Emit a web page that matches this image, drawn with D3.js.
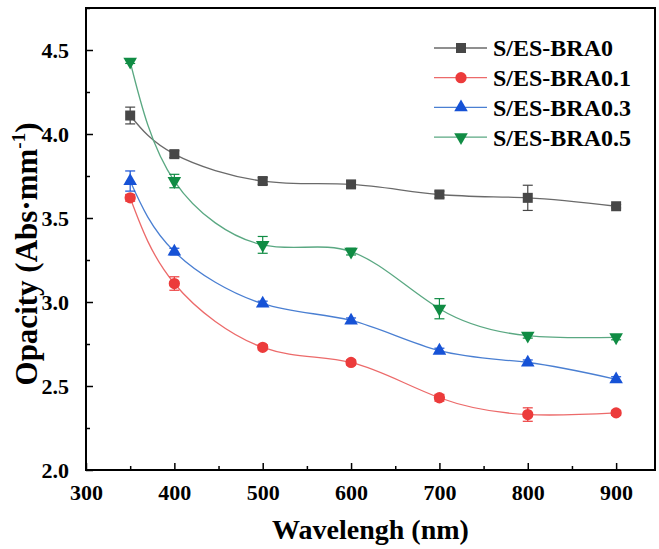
<!DOCTYPE html>
<html>
<head>
<meta charset="utf-8">
<script src="https://cdn.jsdelivr.net/npm/d3@7"></script>
<style>
  body { margin: 0; background: #fff; }
  svg text { font-family: "Liberation Serif", "Times New Roman", "DejaVu Serif", serif; font-weight: bold; }
</style>
</head>
<body>
<div class="vis-opacity"></div>
<script>
// wavelengths (nm)
const wavelengths = [350, 400, 500, 600, 700, 800, 900];
const seriesNames = ['S/ES-BRA0', 'S/ES-BRA0.1', 'S/ES-BRA0.3', 'S/ES-BRA0.5'];
// opacity values (Abs·mm-1) and error bars
const bra0 = [4.11, 3.88, 3.72, 3.70, 3.64, 3.62, 3.57];
const bra0Err = [0.05, 0.02, 0.02, 0.02, 0.02, 0.075, 0.01];
const bra01 = [3.62, 3.11, 2.73, 2.64, 2.43, 2.33, 2.34];
const bra01Err = [0.02, 0.04, 0.015, 0.015, 0.02, 0.04, 0.015];
const bra03 = [3.72, 3.30, 2.99, 2.89, 2.71, 2.64, 2.54];
const bra03Err = [0.06, 0.02, 0.015, 0.015, 0.015, 0.015, 0.015];
const bra05 = [4.43, 3.72, 3.34, 3.30, 2.96, 2.80, 2.79];
const bra05Err = [0.01, 0.04, 0.05, 0.02, 0.06, 0.015, 0.015];
const xTicks = [300, 400, 500, 600, 700, 800, 900];
const yTicks = [2.0, 2.5, 3.0, 3.5, 4.0, 4.5];

const width = 659, height = 549;
const margin = {top: 8, right: 4, bottom: 79, left: 86};

const markerColor = ['#474747', '#ec3b3b', '#1652d6', '#108c44'];
const lineColor = ['#6a6a6a', '#ec6a6a', '#4a7fd2', '#5aa882'];
const symbols = [d3.symbolSquare, d3.symbolCircle, d3.symbolTriangle, d3.symbolTriangle];
const symSize = [100, 100, 80, 80];
const symRotate = [0, 0, 0, 180];

const allValues = [bra0, bra01, bra03, bra05];
const allErrs = [bra0Err, bra01Err, bra03Err, bra05Err];
const series = seriesNames.map((name, i) => ({
  name: name,
  idx: i,
  points: wavelengths.map((w, j) => ({x: w, y: allValues[i][j], e: allErrs[i][j]}))
}));

const svg = d3.select(".vis-opacity")
  .append("svg")
    .attr("width", width)
    .attr("height", height);

const x = d3.scaleLinear()
  .domain([300, 944])
  .range([margin.left, width - margin.right]);
const y = d3.scaleLinear()
  .domain([2.0, 4.75])
  .range([height - margin.bottom, margin.top]);

// axes (ticks inward)
svg.append("g")
  .attr("transform", "translate(0," + (height - margin.bottom) + ")")
  .call(d3.axisBottom(x).tickValues(d3.range(350, 944, 100)).tickSize(-4).tickFormat(""))
  .call(g => g.select(".domain").remove());
svg.append("g")
  .attr("transform", "translate(0," + (height - margin.bottom) + ")")
  .call(d3.axisBottom(x).tickValues(xTicks).tickSize(-7).tickPadding(14).tickFormat(d3.format("d")))
  .call(g => g.select(".domain").remove())
  .call(g => g.selectAll("text").attr("font-size", 22).attr("fill", "#000").attr("dy", "0.71em"));

svg.append("g")
  .attr("transform", "translate(" + margin.left + ",0)")
  .call(d3.axisLeft(y).tickValues([2.25, 2.75, 3.25, 3.75, 4.25, 4.75]).tickSize(-4).tickFormat(""))
  .call(g => g.select(".domain").remove());
svg.append("g")
  .attr("transform", "translate(" + margin.left + ",0)")
  .call(d3.axisLeft(y).tickValues(yTicks).tickSize(-7).tickPadding(17).tickFormat(d3.format(".1f")))
  .call(g => g.select(".domain").remove())
  .call(g => g.selectAll("text").attr("font-size", 22).attr("fill", "#000"));

svg.selectAll(".tick line").attr("stroke", "#000").attr("stroke-width", 1.5);

// frame
svg.append("rect")
  .attr("x", margin.left)
  .attr("y", margin.top)
  .attr("width", width - margin.left - margin.right)
  .attr("height", height - margin.top - margin.bottom)
  .attr("fill", "none")
  .attr("stroke", "#000")
  .attr("stroke-width", 2);

// curves
const line = d3.line()
  .curve(d3.curveNatural)
  .x(d => x(d.x))
  .y(d => y(d.y));

svg.selectAll(".curve")
  .data(series)
  .enter()
  .append("path")
    .attr("class", "curve")
    .attr("fill", "none")
    .attr("stroke", d => lineColor[d.idx])
    .attr("stroke-width", 1.3)
    .attr("d", d => line(d.points));

// error bars
series.forEach(s => {
  const g = svg.append("g").attr("stroke", markerColor[s.idx]).attr("stroke-width", 1.2);
  g.selectAll("line.v")
    .data(s.points)
    .enter().append("line")
      .attr("x1", d => x(d.x)).attr("x2", d => x(d.x))
      .attr("y1", d => y(d.y - d.e)).attr("y2", d => y(d.y + d.e));
  g.selectAll("line.top")
    .data(s.points)
    .enter().append("line")
      .attr("x1", d => x(d.x) - 5).attr("x2", d => x(d.x) + 5)
      .attr("y1", d => y(d.y + d.e)).attr("y2", d => y(d.y + d.e));
  g.selectAll("line.bot")
    .data(s.points)
    .enter().append("line")
      .attr("x1", d => x(d.x) - 5).attr("x2", d => x(d.x) + 5)
      .attr("y1", d => y(d.y - d.e)).attr("y2", d => y(d.y - d.e));
});

// markers
series.forEach(s => {
  svg.append("g").selectAll("path")
    .data(s.points)
    .enter().append("path")
      .attr("d", d3.symbol().type(symbols[s.idx]).size(symSize[s.idx]))
      .attr("transform", d => "translate(" + x(d.x) + "," + y(d.y) + ") rotate(" + symRotate[s.idx] + ")")
      .attr("fill", markerColor[s.idx]);
});

// axis titles
svg.append("text")
  .attr("x", (margin.left + width - margin.right) / 2)
  .attr("y", 539)
  .attr("text-anchor", "middle")
  .attr("font-size", 28)
  .text("Wavelengh (nm)");

const yt = svg.append("text")
  .attr("transform", "translate(37,254) rotate(-90)")
  .attr("text-anchor", "middle")
  .attr("font-size", 31);
yt.append("tspan").text("Opacity (Abs·mm");
yt.append("tspan").attr("font-size", 19).attr("dy", -12).text("-1");
yt.append("tspan").attr("dy", 12).text(")");

// legend
const legend = svg.append("g");
const rowY = i => 48 + i * 29.7;
series.forEach(s => {
  const r = legend.append("g").attr("transform", "translate(0," + rowY(s.idx) + ")");
  r.append("line")
    .attr("x1", 434).attr("x2", 487)
    .attr("stroke", lineColor[s.idx]).attr("stroke-width", 1.3);
  r.append("path")
    .attr("d", d3.symbol().type(symbols[s.idx]).size(symSize[s.idx]))
    .attr("transform", "translate(461,0) rotate(" + symRotate[s.idx] + ")")
    .attr("fill", markerColor[s.idx]);
  r.append("text")
    .attr("x", 493)
    .attr("dy", "0.35em")
    .attr("font-size", 24)
    .text(s.name);
});
</script>
</body>
</html>
